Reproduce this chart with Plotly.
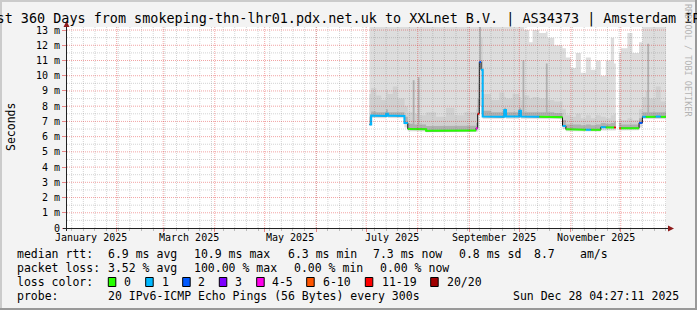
import plotly.graph_objects as go
import pandas as pd

# ---------------- data ----------------
TITLE = "Last 360 Days from smokeping-thn-lhr01.pdx.net.uk to XXLnet B.V. | AS34373 | Amsterdam IPv6"
X_START = "2025-01-02 04:27:11"
X_END = "2025-12-28 04:27:11"
Y_MAX = 13.2

y_tick_vals = [0, 1, 2, 3, 4, 5, 6, 7, 8, 9, 10, 11, 12, 13]
y_tick_text = ["0", "1 m", "2 m", "3 m", "4 m", "5 m", "6 m", "7 m", "8 m", "9 m", "10 m", "11 m", "12 m", "13 m"]

month_labels = ["January 2025", "March 2025", "May 2025", "July 2025", "September 2025", "November 2025"]
month_label_at = ["2025-01-16 12:00", "2025-03-16 12:00", "2025-05-16 12:00",
                  "2025-07-16 12:00", "2025-09-16 00:00", "2025-11-16 00:00"]

seg_start = ["2025-07-03", "2025-07-04", "2025-07-07", "2025-07-10", "2025-07-13", "2025-07-14", "2025-07-17",
             "2025-07-20", "2025-07-24", "2025-07-26", "2025-07-29", "2025-07-30", "2025-08-01", "2025-08-02",
             "2025-08-06", "2025-08-12", "2025-08-18", "2025-08-23", "2025-08-29", "2025-09-05", "2025-09-06",
             "2025-09-07", "2025-09-08", "2025-09-09", "2025-09-14", "2025-09-19", "2025-09-22", "2025-09-23",
             "2025-09-27", "2025-10-01", "2025-10-02", "2025-10-03", "2025-10-04", "2025-10-07", "2025-10-09",
             "2025-10-13", "2025-10-17", "2025-10-18", "2025-10-22", "2025-10-27", "2025-10-29", "2025-11-01",
             "2025-11-04", "2025-11-07", "2025-11-10", "2025-11-13", "2025-11-16", "2025-11-19", "2025-11-22",
             "2025-11-25", "2025-11-27", "2025-11-30", "2025-12-01", "2025-12-05", "2025-12-08", "2025-12-12",
             "2025-12-14", "2025-12-16", "2025-12-17", "2025-12-18", "2025-12-22", "2025-12-25"]
seg_end = seg_start[1:51] + ["2025-11-28"] + seg_start[52:] + [X_END]

median_ms = [6.80, 7.38, 7.38, 7.36, 7.50, 7.38, 7.38, 7.36, 6.90,
             6.50, 6.50, 6.48, 6.48, 6.48, 6.38, 6.38, 6.38, 6.38, 6.40, 6.55, 7.50, 10.90, 10.40,
             7.32, 7.32, 7.30, 7.75, 7.32, 7.32, 7.70, 7.32, 7.32, 7.32, 7.32, 7.30, 7.30, 7.30, 7.30, 7.28, 6.70,
             6.48, 6.45, 6.45, 6.45, 6.45, 6.45, 6.45, 6.62, 6.60, 6.60, 6.60,
             6.55, 6.55, 6.55, 6.55, 6.90, 7.30, 7.30, 7.30, 7.30, 7.32, 7.30]
loss_count = [1, 1, 1, 1, 1, 1, 1, 1, 1,
              0, 0, 0, 0, 0, 0, 0, 0, 0, 0, 5, 15, 2, 1,
              1, 1, 1, 1, 1, 1, 1, 1, 1, 1, 1, 1, 0, 0, 0, 0, 1,
              0, 0, 0, 0, 1, 0, 0, 1, 0, 0, 15,
              8, 0, 0, 0, 2, 1, 0, 0, 0, 1, 0]
ping_min_ms = [6.70, 7.22, 7.22, 7.20, 7.30, 7.22, 7.22, 7.20, 6.60,
               6.35, 6.35, 6.33, 6.33, 6.33, 6.28, 6.28, 6.28, 6.28, 6.28, 6.30, 6.40, 8.00, 7.50,
               7.18, 7.18, 7.18, 7.30, 7.18, 7.18, 7.30, 7.18, 7.18, 7.18, 7.18, 7.18, 7.18, 7.18, 7.18, 7.15, 6.50,
               6.35, 6.33, 6.33, 6.33, 6.33, 6.33, 6.33, 6.40, 6.40, 6.40, 6.40,
               6.40, 6.42, 6.42, 6.42, 6.60, 7.15, 7.15, 7.15, 7.15, 7.15, 7.15]
smoke_dark_ms = [7.30, 7.65, 7.60, 7.60, 7.80, 7.60, 7.60, 7.60, 7.30,
                 6.85, 9.70, 6.80, 9.90, 6.80, 6.70, 6.70, 6.72, 6.70, 6.72, 6.90, 8.50, 14.0, 11.0,
                 7.70, 7.60, 7.60, 7.90, 7.60, 7.60, 7.90, 7.60, 11.0, 7.60, 7.60, 7.60, 7.60, 10.8, 7.60, 7.55, 7.10,
                 6.80, 6.80, 6.80, 6.75, 6.80, 6.75, 6.80, 6.90, 6.85, 6.90, 7.00,
                 6.90, 6.80, 6.80, 6.80, 7.20, 7.60, 7.60, 12.1, 7.60, 7.60, 7.60]
smoke_mid_ms = [8.80, 9.20, 8.70, 8.40, 9.10, 8.80, 9.30, 8.50, 8.00,
                7.60, 9.70, 7.50, 9.90, 7.40, 7.60, 7.30, 7.90, 7.40, 7.60, 7.80, 9.50, 14.0, 12.5,
                8.80, 8.40, 8.90, 8.60, 8.50, 8.80, 8.60, 8.40, 11.0, 8.70, 8.50, 8.60, 8.50, 10.8, 8.40, 8.30, 7.80,
                7.40, 7.30, 7.50, 7.20, 7.40, 7.20, 7.40, 7.30, 7.20, 7.40, 7.50,
                7.20, 7.10, 7.20, 7.10, 7.80, 8.60, 9.00, 12.1, 8.50, 9.30, 8.30]
smoke_max_ms = [14, 14, 14, 14, 14, 14, 14, 14, 14,
                14, 14, 14, 14, 14, 14, 14, 14, 14, 14, 14, 14, 14, 14,
                14, 14, 14, 14, 14, 14, 14, 14, 14, 13.0, 12.2, 13.0, 12.8, 12.9, 12.5, 12.0, 11.8,
                11.2, 10.5, 11.5, 10.2, 11.2, 10.4, 11.0, 10.0, 11.0, 12.5, 10.8,
                11.5, 11.8, 12.8, 11.5, 12.2, 14, 14, 14, 14, 14, 14]

loss_bins = [(0, 0, "#26ff00", "0"), (1, 1, "#00b8ff", "1"), (2, 2, "#0059ff", "2"), (3, 3, "#7e00ff", "3"),
             (4, 5, "#ff00ea", "4-5"), (6, 10, "#ff5500", "6-10"), (11, 19, "#ff0000", "11-19"),
             (20, 20, "#a10000", "20/20")]

legend_rows = [
    [(16, "median rtt:"), (107.3, "6.9 ms avg"), (193.3, "10.9 ms max"), (286.7, "6.3 ms min"),
     (372.3, "7.3 ms now"), (458.3, "0.8 ms sd"), (533.3, "8.7"), (579.3, "am/s")],
    [(16, "packet loss:"), (107.3, "3.52 % avg"), (193.3, "100.00 % max"), (293.3, "0.00 % min"),
     (379.3, "0.00 % now")],
    [(16, "loss color:")],
    [(16, "probe:"), (107.3, "20 IPv6-ICMP Echo Pings (56 Bytes) every 300s")],
]
legend_row_y = [254.3, 268.0, 282.0, 296.0]
loss_box_x = [108.3, 145.7, 182.7, 219.3, 256.7, 306.7, 365.3, 430.7]
loss_label_x = [123.3, 161.0, 197.3, 234.3, 271.0, 321.7, 380.7, 446.0]
STAMP = "Sun Dec 28 04:27:11 2025"

# ---------------- layout geometry ----------------
W, H = 697, 310
ML, MR, MT, MB = 67, 31, 27, 82
PW, PH = W - ML - MR, H - MT - MB
MONO = "DejaVu Sans Mono"


def px(x):
    return (x - ML) / PW


def py(y):
    return (H - MB - y) / PH


fig = go.Figure()

rows = list(zip(seg_start, seg_end, median_ms, loss_count, ping_min_ms, smoke_dark_ms, smoke_mid_ms, smoke_max_ms))
blocks, cur = [], []
for r in rows:
    if cur and cur[-1][1] != r[0]:
        blocks.append(cur)
        cur = []
    cur.append(r)
blocks.append(cur)


def band(block, lo, hi):
    xs, ys = [], []
    for r in block:
        xs += [r[0], r[1]]
        ys += [r[hi], r[hi]]
    for r in reversed(block):
        xs += [r[1], r[0]]
        ys += [r[lo], r[lo]]
    return xs, ys


for lo, hi, col in [(4, 7, "#dddddd"), (2, 6, "#d0d0d0"), (2, 5, "#b0b0b0")]:
    for b in blocks:
        xs, ys = band(b, lo, hi)
        fig.add_trace(go.Scatter(x=xs, y=ys, mode="lines", fill="toself", fillcolor=col,
                                 line=dict(width=0), hoverinfo="skip", showlegend=False))

# thin dark median path
for b in blocks:
    xs, ys = [], []
    for r in b:
        xs += [r[0], r[1]]
        ys += [r[2], r[2]]
    fig.add_trace(go.Scatter(x=xs, y=ys, mode="lines", line=dict(color="#111111", width=1),
                             hoverinfo="skip", showlegend=False))

# coloured median by loss
for lo_l, hi_l, col, _ in loss_bins:
    xs, ys = [], []
    prev_in = False
    prev_end = None
    for r in rows:
        inside = lo_l <= r[3] <= hi_l
        if inside:
            if not (prev_in and prev_end == r[0]):
                if xs:
                    xs.append(None)
                    ys.append(None)
            xs += [r[0], r[1]]
            ys += [r[2], r[2]]
        prev_in = inside
        prev_end = r[1]
    if xs:
        fig.add_trace(go.Scatter(x=xs, y=ys, mode="lines", line=dict(color=col, width=2),
                                 hoverinfo="skip", showlegend=False))

shapes = []
GRID_MINOR = "rgba(120,120,120,0.32)"
GRID_MAJOR = "rgba(220,0,0,0.36)"
DASH = "1px,1px"
for d in pd.date_range("2025-01-05", "2025-12-28", freq="7D"):
    shapes.append(dict(type="line", xref="x", yref="y", x0=d, x1=d, y0=0, y1=Y_MAX,
                       line=dict(color=GRID_MINOR, width=1, dash=DASH), layer="above"))
for v in [i + 0.5 for i in range(13)]:
    shapes.append(dict(type="line", xref="x", yref="y", x0=X_START, x1=X_END, y0=v, y1=v,
                       line=dict(color=GRID_MINOR, width=1, dash=DASH), layer="above"))
for d in pd.date_range("2025-02-01", "2025-12-01", freq="MS"):
    shapes.append(dict(type="line", xref="x", yref="y", x0=d, x1=d, y0=0, y1=Y_MAX,
                       line=dict(color=GRID_MAJOR, width=1, dash=DASH), layer="above"))
for v in y_tick_vals[1:]:
    shapes.append(dict(type="line", xref="x", yref="y", x0=X_START, x1=X_END, y0=v, y1=v,
                       line=dict(color=GRID_MAJOR, width=1, dash=DASH), layer="above"))

# axis lines + arrows
AX = "#222222"
ARROW = "#8e1b1b"
shapes.append(dict(type="line", xref="paper", yref="paper", x0=px(66.5), x1=px(66.5), y0=py(231), y1=py(26),
                   line=dict(color=AX, width=1), layer="above"))
shapes.append(dict(type="line", xref="paper", yref="paper", x0=px(63), x1=px(669), y0=py(228.5), y1=py(228.5),
                   line=dict(color=AX, width=1), layer="above"))
shapes.append(dict(type="path", xref="paper", yref="paper",
                   path=f"M {px(63.5)} {py(27)} L {px(69.5)} {py(27)} L {px(66.5)} {py(21)} Z",
                   fillcolor=ARROW, line=dict(width=0), layer="above"))
shapes.append(dict(type="path", xref="paper", yref="paper",
                   path=f"M {px(668)} {py(225.5)} L {px(668)} {py(231.5)} L {px(674)} {py(228.5)} Z",
                   fillcolor=ARROW, line=dict(width=0), layer="above"))

# legend colour boxes
for bx, (_, _, col, _) in zip(loss_box_x, loss_bins):
    shapes.append(dict(type="rect", xref="paper", yref="paper", x0=px(bx), x1=px(bx + 7.5),
                       y0=py(277.5), y1=py(286.5), fillcolor=col, line=dict(color="#000000", width=1)))

# frame
shapes.append(dict(type="rect", xref="paper", yref="paper", x0=px(0), x1=px(W), y0=py(0), y1=py(2),
                   fillcolor="#cbcbcb", line=dict(width=0), layer="above"))
shapes.append(dict(type="rect", xref="paper", yref="paper", x0=px(0), x1=px(2), y0=py(0), y1=py(H),
                   fillcolor="#cbcbcb", line=dict(width=0), layer="above"))
shapes.append(dict(type="rect", xref="paper", yref="paper", x0=px(0), x1=px(W), y0=py(H - 2), y1=py(H),
                   fillcolor="#999999", line=dict(width=0), layer="above"))
shapes.append(dict(type="rect", xref="paper", yref="paper", x0=px(W - 2), x1=px(W), y0=py(0), y1=py(H),
                   fillcolor="#999999", line=dict(width=0), layer="above"))

annotations = []
for lab, at in zip(month_labels, month_label_at):
    annotations.append(dict(x=at, y=py(237.7), xref="x", yref="paper", text=lab, showarrow=False,
                            xanchor="center", yanchor="middle", borderpad=0,
                            font=dict(family=MONO, size=10, color="#000")))
for row, yy in zip(legend_rows, legend_row_y):
    for xx, txt in row:
        annotations.append(dict(x=px(xx), y=py(yy), xref="paper", yref="paper", text=txt, showarrow=False,
                                xanchor="left", yanchor="middle", borderpad=0,
                                font=dict(family=MONO, size=11.5, color="#000")))
for xx, (_, _, _, lab) in zip(loss_label_x, loss_bins):
    annotations.append(dict(x=px(xx), y=py(282), xref="paper", yref="paper", text=lab, showarrow=False,
                            xanchor="left", yanchor="middle", borderpad=0,
                            font=dict(family=MONO, size=11.5, color="#000")))
annotations.append(dict(x=px(680), y=py(296), xref="paper", yref="paper", text=STAMP, showarrow=False,
                        xanchor="right", yanchor="middle", borderpad=0,
                        font=dict(family=MONO, size=11.5, color="#000")))
annotations.append(dict(x=px(10.5), y=py(127.5), xref="paper", yref="paper", text="Seconds", showarrow=False,
                        textangle=-90, xanchor="center", yanchor="middle", borderpad=0,
                        font=dict(family=MONO, size=11.5, color="#000")))
annotations.append(dict(x=px(688), y=py(60), xref="paper", yref="paper", text="RRDTOOL / TOBI OETIKER",
                        showarrow=False, textangle=90, xanchor="center", yanchor="middle", borderpad=0,
                        font=dict(family=MONO, size=8.5, color="#b4b4b4")))

fig.update_layout(
    width=W, height=H,
    margin=dict(l=ML, r=MR, t=MT, b=MB, pad=0),
    paper_bgcolor="#f3f3f3", plot_bgcolor="#ffffff",
    showlegend=False,
    title=dict(text=TITLE, x=0.5, xref="container", xanchor="center", y=1 - 18.0 / H, yref="container",
               yanchor="middle", font=dict(family=MONO, size=13.45, color="#000")),
    shapes=shapes, annotations=annotations,
    xaxis=dict(type="date", range=[X_START, X_END], showgrid=False, zeroline=False, showline=False,
               showticklabels=False, ticks="outside", ticklen=3, tickcolor="rgba(220,0,0,0.45)",
               tick0="2025-01-01", dtick="M1",
               minor=dict(ticks="outside", ticklen=2, tickcolor="rgba(120,120,120,0.45)",
                          tick0="2025-01-05", dtick=7 * 86400000, showgrid=False)),
    yaxis=dict(range=[0, Y_MAX], showgrid=False, zeroline=False, showline=False,
               tickmode="array", tickvals=y_tick_vals, ticktext=y_tick_text,
               ticks="outside", ticklen=4, tickcolor="rgba(220,0,0,0.45)",
               tickfont=dict(family=MONO, size=10, color="#000")),
)

fig.write_html("out.html", config={"displayModeBar": False})
